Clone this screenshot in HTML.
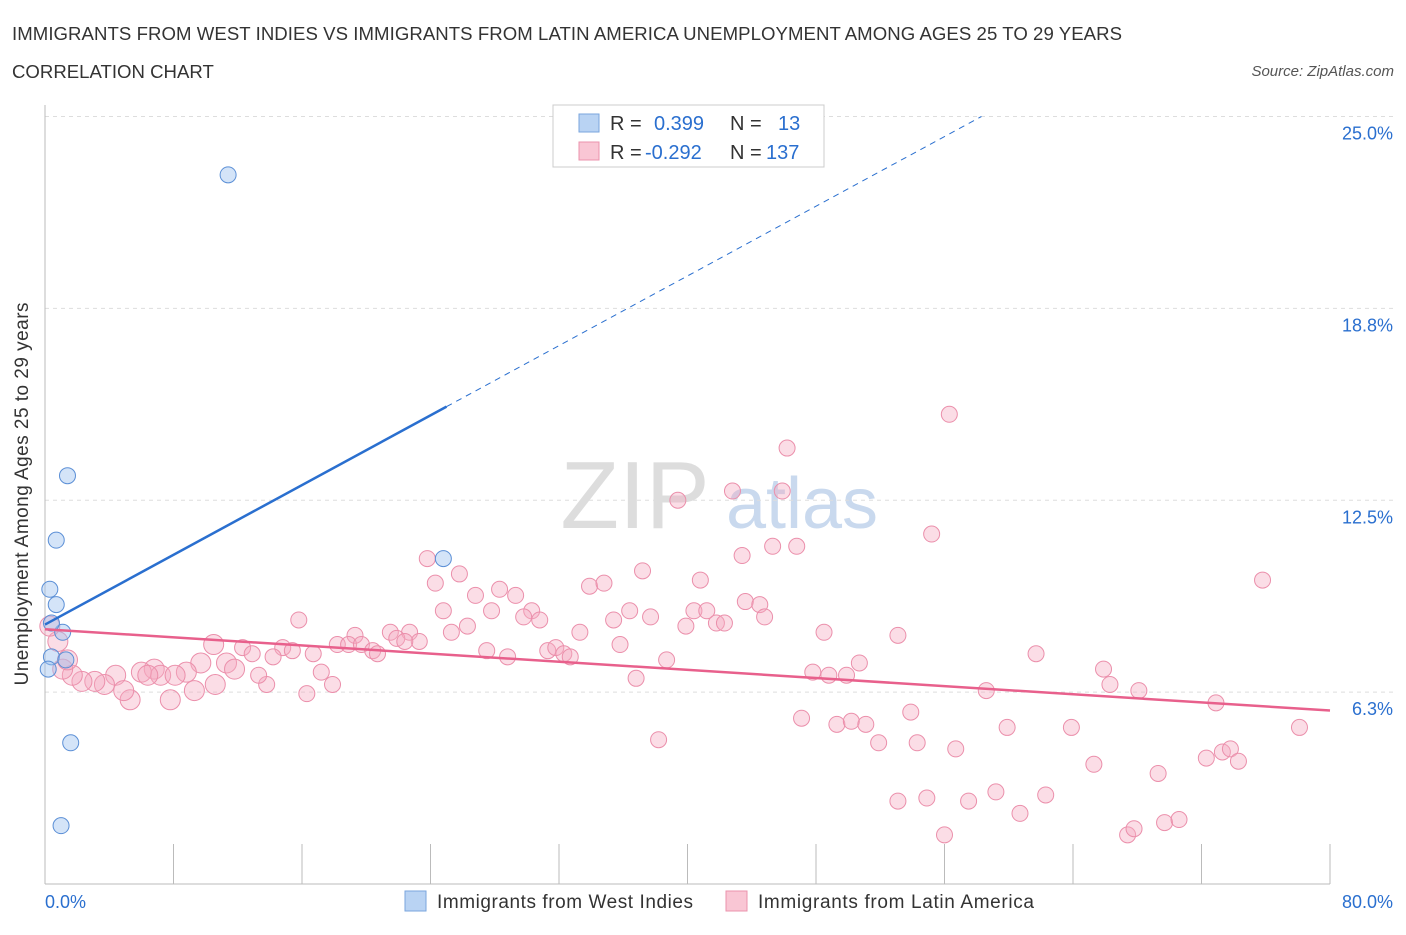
<!DOCTYPE html>
<html><head><meta charset="utf-8">
<style>
body{margin:0;background:#fff;font-family:"Liberation Sans",sans-serif;}
svg text{font-family:"Liberation Sans",sans-serif;}
</style></head>
<body>
<svg id="chart" width="1406" height="930">
<text x="12" y="40" font-size="18.6" fill="#333" textLength="1110">IMMIGRANTS FROM WEST INDIES VS IMMIGRANTS FROM LATIN AMERICA UNEMPLOYMENT AMONG AGES 25 TO 29 YEARS</text>
<text x="12" y="78" font-size="18.6" fill="#333">CORRELATION CHART</text>
<text x="1394" y="76" font-size="15" fill="#555" font-style="italic" text-anchor="end">Source: ZipAtlas.com</text>
<text x="635" y="528" font-size="96" fill="#ddd" font-family="Liberation Serif" text-anchor="middle">ZIP</text>
<text x="802" y="528" font-size="72" fill="#c9d9ee" text-anchor="middle">atlas</text>
<g id="grid"></g>
<g id="axes"></g>
<g id="pts"></g>
<g id="lines"></g>
<text x="28" y="494" font-size="19" fill="#333" text-anchor="middle" textLength="383" transform="rotate(-90 28 494)">Unemployment Among Ages 25 to 29 years</text>
<g>
<rect x="553" y="105" width="271" height="62" fill="#fff" stroke="#ccc"/>
<rect x="579" y="114" width="20" height="18" fill="#b9d3f3" stroke="#7aa6de"/>
<rect x="579" y="142" width="20" height="18" fill="#f9c6d4" stroke="#eb93ad"/>
<text x="610" y="130" font-size="20" fill="#333">R = </text><text x="654" y="130" font-size="20" fill="#2a6fcf">0.399</text>
<text x="730" y="130" font-size="20" fill="#333">N = </text><text x="778" y="130" font-size="20" fill="#2a6fcf">13</text>
<text x="610" y="159" font-size="20" fill="#333">R = </text><text x="645" y="159" font-size="20" fill="#2a6fcf">-0.292</text>
<text x="730" y="159" font-size="20" fill="#333">N = </text><text x="766" y="159" font-size="20" fill="#2a6fcf">137</text>
</g>
<g>
<rect x="405" y="891" width="21" height="20" fill="#b9d3f3" stroke="#7aa6de"/>
<text x="437" y="908" font-size="19" fill="#333" textLength="256">Immigrants from West Indies</text>
<rect x="726" y="891" width="21" height="20" fill="#f9c6d4" stroke="#eb93ad"/>
<text x="758" y="908" font-size="19" fill="#333" textLength="276">Immigrants from Latin America</text>
</g>
</svg>
<script>
const yTicks=[6.25,12.5,18.75,25];
const yTickLabels=["6.3%","12.5%","18.8%","25.0%"];
const xTickLabels=["0.0%","80.0%"];
const blueX=[11.4,1.4,0.7,24.8,0.3,0.7,1.1,0.4,0.4,1.3,0.2,1.6,1.0];
const blueY=[23.1,13.3,11.2,10.6,9.6,9.1,8.2,8.5,7.4,7.3,7.0,4.6,1.9];
const pinkX=[56.3,46.2,39.4,42.8,45.9,55.2,43.4,45.3,46.8,75.8,23.8,25.8,24.3,37.2,33.9,34.8,40.8,28.3,29.3,26.8,24.8,27.8,30.3,29.8,30.8,26.3,25.3,36.4,35.4,37.7,40.4,41.2,39.9,41.8,42.3,43.6,44.5,44.8,33.3,35.8,15.8,21.5,22.7,21.9,19.3,23.3,22.4,18.2,18.9,19.7,20.4,20.7,27.5,28.8,31.3,31.8,32.3,32.7,48.5,53.1,38.7,36.8,47.8,48.8,49.9,50.7,61.7,65.9,66.3,68.1,58.6,72.9,10.5,12.3,12.9,14.8,15.4,14.2,16.7,17.2,17.9,16.3,13.8,11.3,11.8,13.3,9.7,8.8,10.6,9.3,6.8,7.2,6.0,6.4,8.1,7.8,5.3,4.4,4.9,3.7,3.1,2.3,1.7,1.1,1.4,0.8,0.3,47.1,49.3,50.2,51.1,51.9,53.9,54.3,56.7,59.9,63.9,38.2,65.3,69.3,72.3,73.3,73.8,74.3,78.1,53.1,54.9,57.5,59.2,60.7,62.3,56.0,67.4,67.8,69.7,70.6];
const pinkY=[15.3,14.2,12.5,12.8,12.8,11.4,10.7,11.0,11.0,9.9,10.6,10.1,9.8,10.2,9.7,9.8,9.9,9.6,9.4,9.4,8.9,8.9,8.9,8.7,8.6,8.4,8.2,8.9,8.6,8.7,8.9,8.9,8.4,8.5,8.5,9.2,9.1,8.7,8.2,7.8,8.6,8.2,8.2,8.0,8.1,7.9,7.9,7.8,7.8,7.8,7.6,7.5,7.6,7.4,7.6,7.7,7.5,7.4,8.2,8.1,7.3,6.7,6.9,6.8,6.8,7.2,7.5,7.0,6.5,6.3,6.3,5.9,7.8,7.7,7.5,7.7,7.6,7.4,7.5,6.9,6.5,6.2,6.5,7.2,7.0,6.8,7.2,6.9,6.5,6.3,7.0,6.8,6.9,6.8,6.8,6.0,6.0,6.8,6.3,6.5,6.6,6.6,6.8,7.0,7.3,7.9,8.4,5.4,5.2,5.3,5.2,4.6,5.6,4.6,4.4,5.1,5.1,4.7,3.9,3.6,4.1,4.3,4.4,4.0,5.1,2.7,2.8,2.7,3.0,2.3,2.9,1.6,1.6,1.8,2.0,2.1];
const blueFit=[[0,8.45],[25,15.55]];
const blueDash=[[25,15.55],[58.3,25]];
const pinkFit=[[0,8.3],[80,5.65]];
const NS="http://www.w3.org/2000/svg";
const X0=45,X1=1330,Y0=884,PY=30.7;
function sx(v){return X0+(X1-X0)*v/80;}
function sy(v){return Y0-v*PY;}
function mk(tag,attrs,parent){const e=document.createElementNS(NS,tag);for(const k in attrs)e.setAttribute(k,attrs[k]);document.getElementById(parent).appendChild(e);return e;}
yTicks.forEach((t,i)=>{
 const l=mk('line',{x1:X0,x2:1395,y1:sy(t),y2:sy(t),stroke:'#ddd','stroke-dasharray':'4,4'},'grid');
 
 
 const tx=mk('text',{x:1393,y:sy(t)+23,'font-size':18,fill:'#2a6fcf','text-anchor':'end'},'grid');
 tx.textContent=yTickLabels[i];
 
 
});
const ax=mk('line',{x1:X0,x2:X1,y1:Y0,y2:Y0,stroke:'#bbb'},'axes');


const ay=mk('line',{x1:X0,x2:X0,y1:105,y2:Y0,stroke:'#bbb'},'axes');


for(let i=1;i<=10;i++){const x=sx(i*8);
 const t=mk('line',{x1:x,x2:x,y1:Y0,y2:Y0-40,stroke:'#bbb'},'axes');
 
 }
[[0,'start',45],[1,'end',1393]].forEach(([i,a,x])=>{const t=mk('text',{x:x,y:908,'font-size':18,fill:'#2a6fcf','text-anchor':a},'axes');t.textContent=xTickLabels[i];
 
 });
pinkX.forEach((v,i)=>{const r=v<12?10:8;
 const c=mk('circle',{cx:sx(v),cy:sy(pinkY[i]),r:r,fill:'rgba(246,170,192,0.4)',stroke:'#eb8fab','stroke-width':1},'pts');
 
 });
blueX.forEach((v,i)=>{
 const c=mk('circle',{cx:sx(v),cy:sy(blueY[i]),r:8,fill:'rgba(160,195,240,0.45)',stroke:'#5b8fd6','stroke-width':1},'pts');
 
 });
const bl=mk('line',{x1:sx(blueFit[0][0]),y1:sy(blueFit[0][1]),x2:sx(blueFit[1][0]),y2:sy(blueFit[1][1]),stroke:'#2a6fcf','stroke-width':2.5},'lines');


const bd=mk('line',{x1:sx(blueDash[0][0]),y1:sy(blueDash[0][1]),x2:sx(blueDash[1][0]),y2:sy(blueDash[1][1]),stroke:'#2a6fcf','stroke-width':1,'stroke-dasharray':'6,5'},'lines');


const pl=mk('line',{x1:sx(pinkFit[0][0]),y1:sy(pinkFit[0][1]),x2:sx(pinkFit[1][0]),y2:sy(pinkFit[1][1]),stroke:'#e8608c','stroke-width':2.5},'lines');


</script>
</body></html>
